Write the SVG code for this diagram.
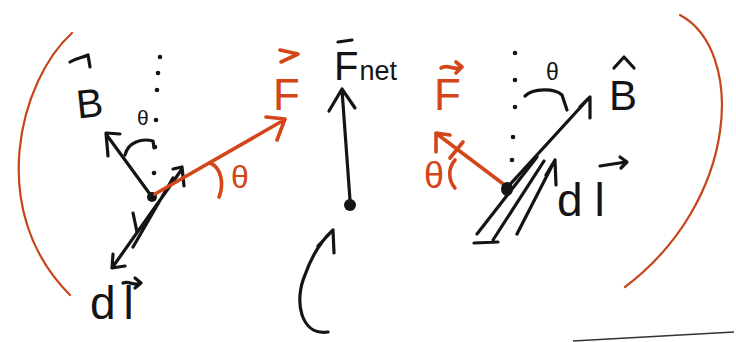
<svg xmlns="http://www.w3.org/2000/svg" width="736" height="342" viewBox="0 0 736 342">
<style>
.k{fill:none;stroke:#141414;stroke-width:3.2;stroke-linecap:round;stroke-linejoin:round}
.o{fill:none;stroke:#d4461a;stroke-width:3.6;stroke-linecap:round;stroke-linejoin:round}
.oa{fill:none;stroke:#c8451c;stroke-width:2.2;stroke-linecap:round}
.tk{font-family:"Liberation Sans","DejaVu Sans",sans-serif;fill:#141414}
.to{font-family:"Liberation Sans","DejaVu Sans",sans-serif;fill:#d4461a}
.dot{fill:#141414}
</style>
<rect width="736" height="342" fill="#ffffff"/>
<g id="left">
<path class="oa" d="M72,33 C20,80 -15,210 70,295"/>
<g class="dot"><circle cx="160" cy="57" r="2.3"/><circle cx="158" cy="73" r="2.3"/><circle cx="157" cy="90" r="2.3"/><circle cx="156" cy="120" r="2.3"/><circle cx="155" cy="147" r="2.3"/><circle cx="154" cy="173" r="2.3"/></g>
<path class="k" d="M152,197 L106,134 M120,134 L106,133 L108,156"/>
<path class="k" d="M125,155 C128,142 142,138 153,141 L154,148" stroke-width="2.6"/>
<text class="tk" x="137" y="125" font-size="21">θ</text>
<path class="k" d="M70,62 C76,58 82,58 88,55 L90,67"/>
<text class="tk" x="76" y="117" font-size="40" transform="rotate(-6 90 102)">B</text>
<path class="k" d="M182,169 L112,268 M173,178 L133,247 M173,169 L182,167 L184,186 M113,254 L112,268 L125,266"/>
<path class="k" d="M133,213 L137,232" stroke-width="2"/>
<circle class="dot" cx="152" cy="197" r="5"/>
<path class="o" d="M155,194 L284,120 M266,117 L285,119 L277,140"/>
<path class="o" d="M210,163 C222,168 224,185 219,197" stroke-width="3"/>
<text class="to" x="231" y="188" font-size="32">θ</text>
<path class="o" d="M280,50 L298,54 L281,62"/>
<text class="to" x="273" y="110" font-size="44">F</text>
<path class="k" d="M123,283 C129,280 134,287 141,283 M135,278 L141,283 L135,288" stroke-width="2.4"/>
<text class="tk" x="90" y="319" font-size="46" letter-spacing="8">dl</text>
</g>
<g id="middle">
<path class="k" d="M338,42 L352,40"/>
<text class="tk" x="334" y="80" font-size="40">F<tspan font-size="27" dx="1">net</tspan></text>
<path class="k" d="M350,200 L342,90 M329,111 L342,89 L355,108" stroke-width="3.8"/>
<circle class="dot" cx="350" cy="205" r="6"/>
<path class="k" d="M328,332 C300,336 294,300 305,275 C312,255 322,240 333,230 M318,246 L333,230 L334,253" stroke-width="2.6"/>
</g>
<g id="right">
<path class="o" d="M441,68 C448,63 455,72 462,67 M456,62 L462,67 L456,73" stroke-width="3"/>
<text class="to" x="434" y="110" font-size="44">F</text>
<path class="o" d="M506,186 L437,134 M436,152 L436,133 L450,135 M463,142 L450,158"/>
<text class="to" x="424" y="188" font-size="36">θ</text>
<path class="o" d="M455,160 C448,168 448,180 455,188" stroke-width="3"/>
<g class="dot"><circle cx="515" cy="53" r="2.3"/><circle cx="515" cy="80" r="2.3"/><circle cx="515" cy="107" r="2.3"/><circle cx="513" cy="137" r="2.3"/><circle cx="512" cy="160" r="2.3"/></g>
<text class="tk" x="546" y="80" font-size="23">θ</text>
<path class="k" d="M525,96 C533,88 555,88 562,95 L567,110" stroke-width="2.6"/>
<path class="k" d="M505,190 L589,98 M580,107 L590,97 L590,118"/>
<path class="k" d="M614,68 L624,57 L634,68"/>
<text class="tk" x="609" y="110" font-size="42">B</text>
<path class="k" d="M537,157 L477,234 M544,161 L493,240 M517,234 L555,160 M546,175 L555,160 L556,185 M474,243 L498,242"/>
<ellipse class="dot" cx="507" cy="189" rx="6" ry="7"/>
<path class="k" d="M600,166 L626,162 M620,157 L627,162 L621,168" stroke-width="2.6"/>
<text class="tk" x="557" y="216" font-size="46" letter-spacing="12">dl</text>
<path class="oa" d="M680,15 C745,50 740,200 625,287"/>
<path d="M573,341 L734,332" fill="none" stroke="#333" stroke-width="1.6"/>
</g>
</svg>
